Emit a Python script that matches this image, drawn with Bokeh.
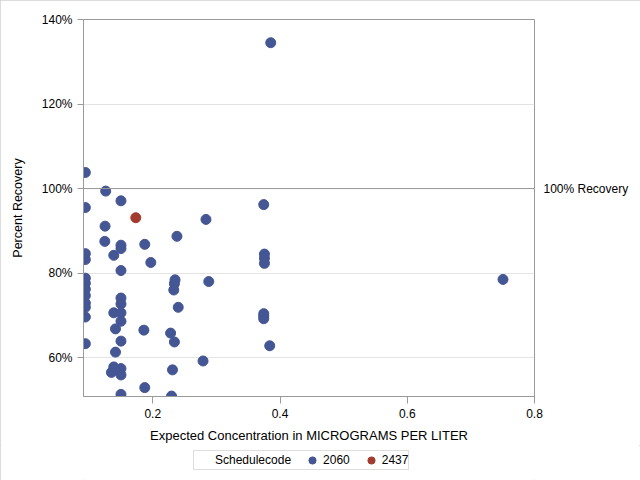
from bokeh.plotting import figure
from bokeh.layouts import column
from bokeh.models import (ColumnDataSource, Span, FixedTicker, LinearAxis, Range1d,
                          Legend, LegendItem)
from bokeh.embed import file_html
from bokeh.resources import INLINE

# ---- data ----
x_2060 = [0.094, 0.094, 0.094, 0.094, 0.094, 0.094, 0.094, 0.094, 0.094, 0.094, 0.094, 0.094,
          0.126, 0.125, 0.1246,
          0.1387, 0.1387, 0.1387, 0.135, 0.1414, 0.1414,
          0.150, 0.150, 0.150, 0.150, 0.150, 0.150, 0.150, 0.150, 0.150, 0.150, 0.150, 0.150,
          0.1874, 0.186, 0.1874, 0.1969,
          0.238, 0.235, 0.234, 0.233, 0.240, 0.228, 0.234, 0.231, 0.2295,
          0.2836, 0.288, 0.279,
          0.3744, 0.3755, 0.3755, 0.3755, 0.3744, 0.3744, 0.3744,
          0.3838, 0.3854, 0.7505]
y_2060 = [103.8, 95.5, 84.6, 83.2, 78.8, 77.6, 76.2, 74.7, 72.9, 71.9, 69.6, 63.3,
          99.4, 91.1, 87.5,
          84.2, 70.6, 57.8, 56.5, 66.8, 61.3,
          97.1, 86.6, 85.8, 80.6, 74.1, 72.7, 70.6, 68.6, 63.9, 57.4, 55.9, 51.3,
          86.8, 66.5, 52.9, 82.5,
          88.7, 78.4, 77.5, 76.0, 71.9, 65.8, 63.7, 57.1, 50.9,
          92.7, 78.0, 59.2,
          96.2, 84.5, 83.5, 82.3, 70.4, 69.8, 69.2,
          62.8, 134.5, 78.5]
x_2437 = [0.1733]
y_2437 = [93.1]

series_labels = ["2060", "2437"]
series_colors = ["#445694", "#A23A2E"]
legend_title = "Schedulecode"
y_ticks = [60, 80, 100, 120, 140]
y_tick_labels = ["60%", "80%", "100%", "120%", "140%"]
x_ticks = [0.2, 0.4, 0.6, 0.8]
ref_value = 100
ref_label = "100% Recovery"

FONT = "Liberation Sans"
AXIS_GREY = "#9a9a9a"

# ---- main plot ----
p = figure(width=640, height=445, output_backend="svg", toolbar_location=None,
           x_range=Range1d(0.0911, 0.8), y_range=Range1d(50.8, 140),
           min_border_left=83, min_border_right=106, min_border_top=19,
           min_border_bottom=48, background_fill_color="white",
           border_fill_color="white")
p.outline_line_color = AXIS_GREY

s1 = ColumnDataSource(dict(x=x_2060, y=y_2060))
s2 = ColumnDataSource(dict(x=x_2437, y=y_2437))

p.add_layout(Span(location=ref_value, dimension="width", line_color="#999999", line_width=1))

p.circle("x", "y", source=s1, radius=5, radius_units="screen",
         fill_color=series_colors[0], line_color=series_colors[0])
p.circle("x", "y", source=s2, radius=5, radius_units="screen",
         fill_color=series_colors[1], line_color=series_colors[1])

p.xgrid.visible = False
p.ygrid.grid_line_color = "#e4e4e4"
p.ygrid.ticker = FixedTicker(ticks=y_ticks)

for ax in (p.xaxis[0], p.yaxis[0]):
    ax.axis_line_color = AXIS_GREY
    ax.major_tick_line_color = AXIS_GREY
    ax.minor_tick_line_color = None
    ax.major_tick_in = 0
    ax.major_label_text_font = FONT
    ax.major_label_text_font_size = "12px"
    ax.major_label_text_color = "black"
    ax.axis_label_text_font = FONT
    ax.axis_label_text_font_style = "normal"
    ax.axis_label_text_color = "black"

p.xaxis[0].ticker = FixedTicker(ticks=x_ticks)
p.xaxis[0].major_tick_out = 7
p.xaxis[0].major_label_standoff = 5
p.xaxis[0].axis_label = "Expected Concentration in MICROGRAMS PER LITER"
p.xaxis[0].axis_label_text_font_size = "13px"
p.xaxis[0].axis_label_standoff = 7

p.yaxis[0].ticker = FixedTicker(ticks=y_ticks)
p.yaxis[0].major_label_overrides = {t: l for t, l in zip(y_ticks, y_tick_labels)}
p.yaxis[0].major_tick_out = 6
p.yaxis[0].major_label_standoff = 5
p.yaxis[0].axis_label = "Percent Recovery"
p.yaxis[0].axis_label_text_font_size = "12.5px"
p.yaxis[0].axis_label_standoff = 14

right = LinearAxis(ticker=FixedTicker(ticks=[ref_value]),
                   major_label_overrides={ref_value: ref_label},
                   axis_line_color=None, major_tick_line_color=None,
                   minor_tick_line_color=None, major_label_standoff=3,
                   major_label_text_font=FONT, major_label_text_font_size="12px",
                   major_label_text_color="black")
p.add_layout(right, "right")

# ---- legend strip (its ranges keep the series out of view; only the legend shows) ----
pl = figure(width=640, height=35, output_backend="svg", toolbar_location=None,
            x_range=Range1d(0, 1), y_range=Range1d(0, 1),
            x_axis_location=None, y_axis_location=None, min_border=0,
            background_fill_color="white", border_fill_color="white")
pl.outline_line_color = None
pl.xgrid.visible = False
pl.ygrid.visible = False

dummy = pl.scatter(x=[], y=[], fill_alpha=0, line_alpha=0)
lr1 = pl.circle("x", "y", source=s1, radius=5, radius_units="screen",
                fill_color=series_colors[0], line_color=series_colors[0])
lr2 = pl.circle("x", "y", source=s2, radius=5, radius_units="screen",
                fill_color=series_colors[1], line_color=series_colors[1])

legend = Legend(items=[LegendItem(label=legend_title, renderers=[dummy]),
                       LegendItem(label=series_labels[0], renderers=[lr1]),
                       LegendItem(label=series_labels[1], renderers=[lr2])],
                orientation="horizontal", location=(110, 10),
                label_text_font=FONT, label_text_font_size="12px", label_text_color="black",
                glyph_width=20, glyph_height=18, label_height=18, label_width=20,
                label_standoff=1, spacing=11, padding=0, margin=0,
                border_line_color="#bdbdbd", background_fill_color="white")
pl.add_layout(legend, "center")

layout = column(p, pl, spacing=0)
layout.styles = {"outline": "1px solid #d0d0d0", "outline-offset": "-1px"}
open("out.html", "w").write(file_html(layout, INLINE))
